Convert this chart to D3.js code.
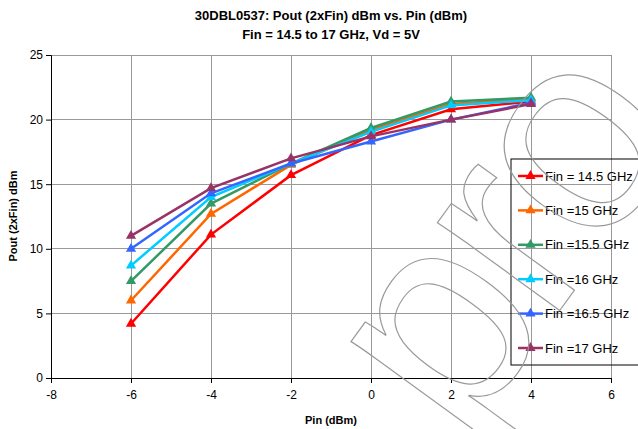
<!DOCTYPE html>
<html><head><meta charset="utf-8">
<script src="https://cdn.jsdelivr.net/npm/d3@7"></script>
<style>body{margin:0;background:#fff}svg{display:block}text{font-family:"Liberation Sans",Arial,sans-serif}</style>
</head><body>
<script>
const pin = [-6, -4, -2, 0, 2, 4];
const seriesNames = ["Fin = 14.5 GHz", "Fin =15 GHz", "Fin =15.5 GHz", "Fin =16 GHz", "Fin =16.5 GHz", "Fin =17 GHz"];
const seriesColors = ["#ff0000", "#ff6600", "#339966", "#00ccff", "#3366ff", "#993366"];
const f145 = [4.2, 11.1, 15.7, 18.8, 20.8, 21.4];
const f150 = [6.0, 12.7, 16.5, 19.2, 21.2, 21.6];
const f155 = [7.5, 13.5, 16.6, 19.35, 21.4, 21.7];
const f160 = [8.7, 14.0, 16.6, 19.05, 21.1, 21.5];
const f165 = [10.0, 14.3, 16.6, 18.3, 20.0, 21.3];
const f170 = [11.0, 14.7, 17.0, 18.7, 20.0, 21.2];
const seriesValues = [f145, f150, f155, f160, f165, f170];
const xTicks = [-8, -6, -4, -2, 0, 2, 4, 6];
const yTicks = [0, 5, 10, 15, 20, 25];

const W = 638, H = 429;
const svg = d3.select("body").append("svg").attr("width", W).attr("height", H);
const x = d3.scaleLinear().domain([-8, 6]).range([51, 611]);
const y = d3.scaleLinear().domain([0, 25]).range([378, 55]);

// grid
svg.append("g").selectAll("line").data(xTicks.slice(1)).join("line")
  .attr("x1", d => x(d)).attr("x2", d => x(d)).attr("y1", y(0)).attr("y2", y(25))
  .attr("stroke", "#999").attr("stroke-width", 1).attr("shape-rendering", "crispEdges");
svg.append("g").selectAll("line").data(yTicks.slice(1)).join("line")
  .attr("x1", x(-8)).attr("x2", x(6)).attr("y1", d => y(d)).attr("y2", d => y(d))
  .attr("stroke", "#999").attr("stroke-width", 1).attr("shape-rendering", "crispEdges");

// axes
const fmt = d => String(d);
const xAxis = d3.axisBottom(x).tickValues(xTicks).tickSize(5).tickFormat(fmt);
const gx = svg.append("g").attr("transform", `translate(0,${y(0)})`).call(xAxis);
gx.select(".domain").attr("stroke", "#000");
gx.selectAll("text").attr("font-size", 12).attr("fill", "#000").attr("dy", "1.1em");
const yAxis = d3.axisLeft(y).tickValues(yTicks).tickSize(5).tickFormat(fmt);
const gy = svg.append("g").attr("transform", `translate(${x(-8)},0)`).call(yAxis);
gy.select(".domain").attr("stroke", "#000");
gy.selectAll("text").attr("font-size", 12).attr("fill", "#000");

// series
const line = d3.line().x((d, i) => x(pin[i])).y(d => y(d));
const tri = d3.symbol().type(d3.symbolTriangle).size(45);
seriesValues.forEach((vals, k) => {
  svg.append("path").datum(vals).attr("d", line).attr("fill", "none")
    .attr("stroke", seriesColors[k]).attr("stroke-width", 2.5);
  svg.append("g").selectAll("path").data(vals).join("path")
    .attr("d", tri).attr("transform", (d, i) => `translate(${x(pin[i])},${y(d)})`)
    .attr("fill", seriesColors[k]);
});

// titles
svg.append("text").attr("x", 331).attr("y", 20).attr("text-anchor", "middle")
  .attr("font-size", 13).attr("font-weight", "bold").text("30DBL0537: Pout (2xFin) dBm vs. Pin (dBm)");
svg.append("text").attr("x", 331).attr("y", 39).attr("text-anchor", "middle")
  .attr("font-size", 13).attr("font-weight", "bold").text("Fin = 14.5 to 17 GHz, Vd = 5V");
svg.append("text").attr("x", 331).attr("y", 424).attr("text-anchor", "middle")
  .attr("font-size", 11).attr("font-weight", "bold").text("Pin (dBm)");
svg.append("text").attr("transform", "translate(17,216) rotate(-90)").attr("text-anchor", "middle")
  .attr("font-size", 11).attr("font-weight", "bold").text("Pout (2xFin) dBm");

// legend
const lg = svg.append("g");
lg.append("rect").attr("x", 511).attr("y", 159).attr("width", 140).attr("height", 206)
  .attr("fill", "none").attr("stroke", "#000").attr("stroke-width", 1);
seriesNames.forEach((name, k) => {
  const ly = 176 + k * 34.4;
  lg.append("line").attr("x1", 518).attr("x2", 543).attr("y1", ly).attr("y2", ly)
    .attr("stroke", seriesColors[k]).attr("stroke-width", 2.5);
  lg.append("path").attr("d", tri).attr("transform", `translate(530.5,${ly})`).attr("fill", seriesColors[k]);
  lg.append("text").attr("x", 545).attr("y", ly + 4.5).attr("font-size", 13).attr("fill", "#000").text(name);
});

// watermark (decorative outlined text)
svg.append("text").attr("transform", "translate(462,445) rotate(-54)")
  .attr("font-size", 285).attr("letter-spacing", -12).attr("fill", "none").attr("stroke", "#999").attr("stroke-width", 1.2)
  .text("pro");
</script>
</body></html>
